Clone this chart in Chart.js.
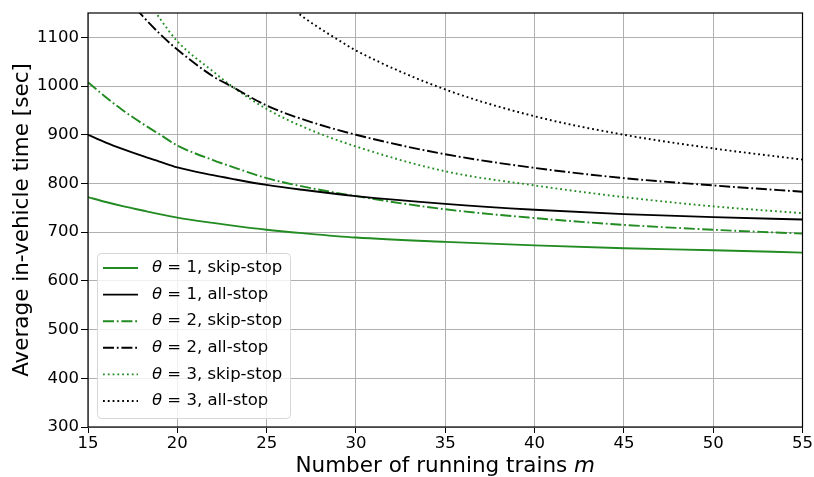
<!DOCTYPE html>
<html><head><meta charset="utf-8">
<script src="https://cdn.jsdelivr.net/npm/chart.js@4/dist/chart.umd.min.js"></script>
<style>html,body{margin:0;padding:0;background:#fff;}#wrap{width:814px;height:477px;}</style>
</head><body><div id="wrap"><canvas id="c" width="814" height="477"></canvas></div>
<script>
// ---- data ----
const xTicks = [15, 20, 25, 30, 35, 40, 45, 50, 55];
const yTicks = [300, 400, 500, 600, 700, 800, 900, 1000, 1100];
const thetaValues = ['1', '1', '2', '2', '3', '3'];
const stopTypes = ['skip-stop', 'all-stop', 'skip-stop', 'all-stop', 'skip-stop', 'all-stop'];

const mFull = [15, 16, 17, 18, 19, 20, 22, 23, 25, 27, 30, 35, 40, 45, 50, 55];
const theta1Skip = [772, 762, 753, 745, 737, 730, 719, 714, 705, 698, 689, 680, 673, 667, 663, 658];
const theta1All = [900, 884, 870, 857, 845, 833, 817, 810, 797, 787, 774, 758, 746, 737, 731, 726];
const theta2Skip = [1008, 977, 949, 924, 901, 878, 848, 835, 811, 794, 774, 747, 729, 715, 705, 697];

const m2All = [17, 18, 19, 20, 22, 23, 25, 27, 30, 35, 40, 45, 50, 55];
const theta2All = [1188, 1146, 1108, 1075, 1020, 1000, 960, 932, 900, 860, 832, 811, 796, 783];

const m3Skip = [18, 19, 20, 22, 23, 25, 27, 30, 35, 40, 45, 50, 55];
const theta3Skip = [1195, 1140, 1092, 1030, 1001, 953, 917, 876, 825, 796, 772, 753, 739];

const m3All = [26, 27, 28, 29, 30, 35, 40, 45, 50, 55];
const theta3All = [1172, 1143, 1118, 1095, 1073, 993, 938, 900, 872, 849];

const GREEN = '#228b22';
const FONT = '"DejaVu Sans", sans-serif';
const TICK_SIZE = 16.5;
const TITLE_SIZE = 21.5;
const LEGEND_SIZE = 16.5;

const pairs = (xs, ys) => xs.map((x, i) => ({ x: x, y: ys[i] }));
const dashDot = [11, 2.8, 1.8, 2.8];
const dotted = [1.8, 3];

const seriesDefs = [
  { xs: mFull, ys: theta1Skip, color: GREEN, dash: [] },
  { xs: mFull, ys: theta1All, color: '#000', dash: [] },
  { xs: mFull, ys: theta2Skip, color: GREEN, dash: dashDot },
  { xs: m2All, ys: theta2All, color: '#000', dash: dashDot },
  { xs: m3Skip, ys: theta3Skip, color: GREEN, dash: dotted },
  { xs: m3All, ys: theta3All, color: '#000', dash: dotted },
];

const datasets = seriesDefs.map((s, i) => ({
  label: 'θ = ' + thetaValues[i] + ', ' + stopTypes[i],
  data: pairs(s.xs, s.ys),
  borderColor: s.color,
  backgroundColor: s.color,
  borderWidth: 1.9,
  borderDash: s.dash,
  pointRadius: 0,
  fill: false,
  cubicInterpolationMode: 'monotone',
}));

const mplPlugin = {
  id: 'mplDecor',
  afterDatasetsDraw(chart) {
    const ctx = chart.ctx, ca = chart.chartArea;
    // legend
    const lx = ca.left + 9, ly = ca.bottom - 9 - 165, lw = 193, lh = 165;
    ctx.save();
    ctx.beginPath();
    if (ctx.roundRect) ctx.roundRect(lx + 0.5, ly + 0.5, lw, lh, 4); else ctx.rect(lx + 0.5, ly + 0.5, lw, lh);
    ctx.fillStyle = 'rgba(255,255,255,0.8)';
    ctx.fill();
    ctx.strokeStyle = '#d6d6d6';
    ctx.lineWidth = 1;
    ctx.stroke();
    chart.data.datasets.forEach((ds, i) => {
      const cy = ly + 15 + i * 26.6;
      ctx.beginPath();
      ctx.setLineDash(ds.borderDash || []);
      ctx.strokeStyle = ds.borderColor;
      ctx.lineWidth = ds.borderWidth;
      ctx.moveTo(lx + 6, cy);
      ctx.lineTo(lx + 41, cy);
      ctx.stroke();
      ctx.setLineDash([]);
      ctx.fillStyle = '#000';
      ctx.textBaseline = 'middle';
      ctx.textAlign = 'left';
      let tx = lx + 55;
      ctx.font = 'italic ' + LEGEND_SIZE + 'px ' + FONT;
      ctx.fillText('θ', tx, cy);
      tx += ctx.measureText('θ').width;
      ctx.font = LEGEND_SIZE + 'px ' + FONT;
      ctx.fillText(' = ' + thetaValues[i] + ', ' + stopTypes[i], tx, cy);
    });
    ctx.restore();
  },
  afterDraw(chart) {
    const ctx = chart.ctx, ca = chart.chartArea;
    ctx.save();
    ctx.strokeStyle = '#000';
    ctx.lineWidth = 1.2;
    ctx.strokeRect(ca.left, ca.top, ca.right - ca.left, ca.bottom - ca.top);
    // x title
    ctx.fillStyle = '#000';
    ctx.textBaseline = 'middle';
    ctx.textAlign = 'left';
    const t1 = 'Number of running trains ', t2 = 'm';
    ctx.font = TITLE_SIZE + 'px ' + FONT;
    const w1 = ctx.measureText(t1).width;
    ctx.font = 'italic ' + TITLE_SIZE + 'px ' + FONT;
    const w2 = ctx.measureText(t2).width;
    const cx = (ca.left + ca.right) / 2;
    let sx = cx - (w1 + w2) / 2;
    ctx.font = TITLE_SIZE + 'px ' + FONT;
    ctx.fillText(t1, sx, 466);
    ctx.font = 'italic ' + TITLE_SIZE + 'px ' + FONT;
    ctx.fillText(t2, sx + w1, 466);
    // y title
    ctx.translate(22, (ca.top + ca.bottom) / 2);
    ctx.rotate(-Math.PI / 2);
    ctx.textAlign = 'center';
    ctx.font = TITLE_SIZE + 'px ' + FONT;
    ctx.fillText('Average in-vehicle time [sec]', 0, 0);
    ctx.restore();
  }
};

new Chart(document.getElementById('c'), {
  type: 'line',
  data: { datasets: datasets },
  options: {
    responsive: false,
    animation: false,
    devicePixelRatio: 1,
    layout: { padding: { top: 13, right: 11, left: 0, bottom: 0 } },
    plugins: { legend: { display: false }, tooltip: { enabled: false }, title: { display: false } },
    scales: {
      x: {
        type: 'linear', min: 15, max: 55,
        afterBuildTicks: s => { s.ticks = xTicks.map(v => ({ value: v })); },
        afterFit: s => { s.height = 50; },
        ticks: { color: '#000', font: { family: FONT, size: TICK_SIZE }, padding: 1, maxRotation: 0, autoSkip: false,
                 callback: v => String(v) },
        grid: { color: '#b0b0b0', lineWidth: 1, tickColor: '#000', tickLength: 6 },
        border: { display: false }
      },
      y: {
        type: 'linear', min: 300, max: 1150,
        afterBuildTicks: s => { s.ticks = yTicks.map(v => ({ value: v })); },
        afterFit: s => { s.width = 88; },
        ticks: { color: '#000', font: { family: FONT, size: TICK_SIZE }, padding: 2, autoSkip: false,
                 callback: v => String(v) },
        grid: { color: '#b0b0b0', lineWidth: 1, tickColor: '#000', tickLength: 7 },
        border: { display: false }
      }
    }
  },
  plugins: [mplPlugin]
});
</script>
</body></html>
